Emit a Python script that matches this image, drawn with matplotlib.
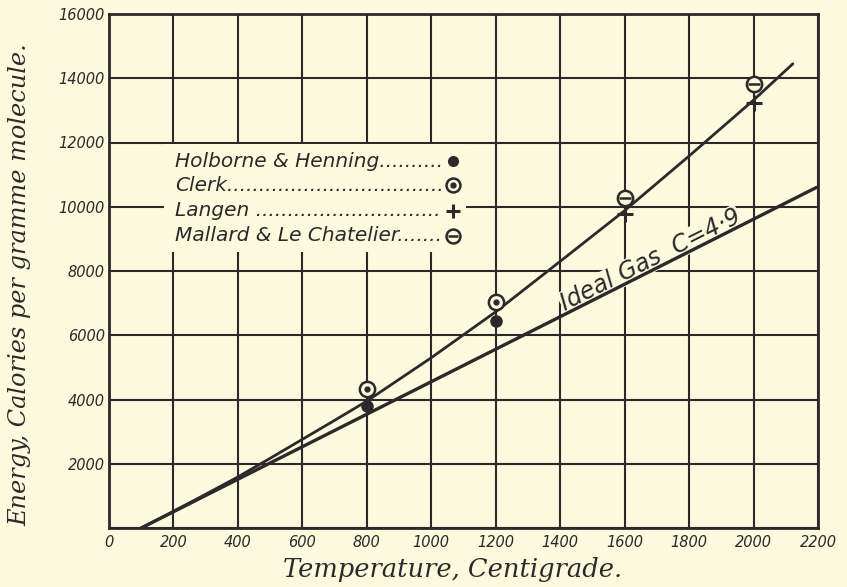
import matplotlib
matplotlib.use("Agg")
import matplotlib.pyplot as plt
from matplotlib.patches import Rectangle

# ---- data ----
holborne_t = [800, 1200]
holborne_e = [3790, 6440]
clerk_t = [800, 1200]
clerk_e = [4330, 7040]
langen_t = [1600, 2000]
langen_e = [9760, 13220]
mallard_t = [1600, 2000]
mallard_e = [10280, 13830]

curve_t = [100, 200, 300, 400, 500, 600, 700, 800, 1000, 1200, 1400, 1600, 1800, 2000, 2122]
curve_e = [0, 520, 1050, 1590, 2170, 2760, 3350, 3950, 5300, 6730, 8300, 9880, 11580, 13320, 14450]

ideal_t = [100, 2195]
ideal_e = [0, 10600]

xticks = [0, 200, 400, 600, 800, 1000, 1200, 1400, 1600, 1800, 2000, 2200]
yticks = [0, 2000, 4000, 6000, 8000, 10000, 12000, 14000, 16000]
ytick_labels = ["", "2000", "4000", "6000", "8000", "10000", "12000", "14000", "16000"]

legend_names = ["Holborne & Henning", "Clerk", "Langen ", "Mallard & Le Chatelier"]

BG = "#FBFADF"
INK = "#2b2a28"

fig = plt.figure(figsize=(8.47, 5.87), dpi=100, facecolor=BG)
ax = fig.add_axes([109/847, 1-528/587, (818-109)/847, (528-14)/587])
ax.set_facecolor(BG)
ax.set_xlim(0, 2200)
ax.set_ylim(0, 16000)

sans = "DejaVu Sans"
ax.set_xticks(xticks)
ax.set_xticklabels([str(v) for v in xticks], fontsize=10.5, style="italic", family=sans, color=INK)
ax.set_yticks(yticks)
ax.set_yticklabels(ytick_labels, fontsize=10.5, style="italic", family=sans, color=INK)
ax.tick_params(length=0, pad=5)
ax.tick_params(axis="y", pad=3)
ax.grid(True, color=INK, lw=1.5, zorder=0.5)
ax.set_axisbelow(True)
for s in ax.spines.values():
    s.set_color(INK)
    s.set_linewidth(2)

# lines
ax.plot(curve_t, curve_e, color=INK, lw=2, zorder=3, solid_capstyle="round")
ax.plot(ideal_t, ideal_e, color=INK, lw=2.4, zorder=3, solid_capstyle="round")

# markers
mk = dict(linestyle="none", zorder=5)
ax.plot(holborne_t, holborne_e, marker="o", ms=8, mfc=INK, mec=INK, **mk)
ax.plot(clerk_t, clerk_e, marker="o", ms=11, mfc=BG, mec=INK, mew=1.8, **mk)
ax.plot(clerk_t, clerk_e, marker="o", ms=3.5, mfc=INK, mec=INK, **mk)
ax.plot(langen_t, langen_e, marker="+", ms=11, mec=INK, mew=2.2, **mk)
ax.plot(mallard_t, mallard_e, marker="o", ms=11, mfc=BG, mec=INK, mew=1.8, **mk)
ax.plot(mallard_t, mallard_e, marker="_", ms=8, mec=INK, mew=1.8, **mk)

# legend block (manual)
ax.add_patch(Rectangle((0.077, 0.536), 0.426, 0.212, transform=ax.transAxes,
                       facecolor=BG, edgecolor="none", zorder=1.5))
rows = [0.714, 0.667, 0.617, 0.569]
xt, xm = 0.093, 0.485
fig.canvas.draw()
renderer = fig.canvas.get_renderer()
target_px = ax.transAxes.transform((xm, 0))[0] - 8
for name, yy in zip(legend_names, rows):
    t = ax.text(xt, yy, name, transform=ax.transAxes, fontsize=14.5, style="italic",
                family=sans, color=INK, va="center", ha="left", zorder=4)
    lab = name
    for _ in range(80):
        t.set_text(lab + ".")
        if t.get_window_extent(renderer).x1 > target_px:
            break
        lab = lab + "."
    if lab == name:
        lab = name + ".."
    t.set_text(lab)
tr = ax.transAxes
ax.plot([xm], [rows[0]], transform=tr, marker="o", ms=7, mfc=INK, mec=INK, **mk)
ax.plot([xm], [rows[1]], transform=tr, marker="o", ms=10, mfc=BG, mec=INK, mew=1.8, **mk)
ax.plot([xm], [rows[1]], transform=tr, marker="o", ms=3.5, mfc=INK, mec=INK, **mk)
ax.plot([xm], [rows[2]], transform=tr, marker="+", ms=10, mec=INK, mew=2.2, **mk)
ax.plot([xm], [rows[3]], transform=tr, marker="o", ms=10, mfc=BG, mec=INK, mew=1.8, **mk)
ax.plot([xm], [rows[3]], transform=tr, marker="_", ms=7, mec=INK, mew=1.8, **mk)

# ideal gas label
ax.text(1680, 8340, "Ideal Gas  C=4·9", rotation=26.8, rotation_mode="anchor",
        ha="center", va="center", fontsize=17, style="italic", family=sans, color=INK,
        zorder=2, bbox=dict(facecolor=BG, edgecolor="none", pad=0.3))

fig.text(453/847, 1-570/587, "Temperature, Centigrade.", ha="center", va="center",
         fontsize=18.5, style="italic", family="DejaVu Serif", color=INK)
fig.text(20/847, 1-285/587, "Energy, Calories per gramme molecule.", ha="center", va="center",
         rotation=90, fontsize=17.3, style="italic", family="DejaVu Serif", color=INK)

fig.savefig("out.png", dpi=100, facecolor=BG)
